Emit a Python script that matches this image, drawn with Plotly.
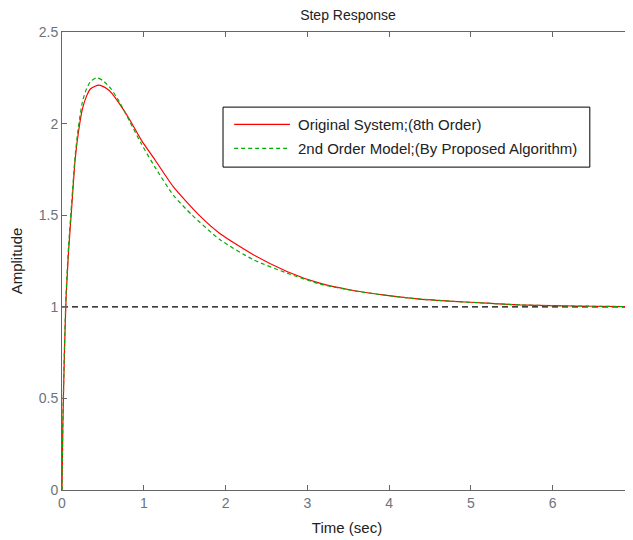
import plotly.graph_objects as go

# Original 8th-order system step response
t_orig = [0, 0.01, 0.03, 0.05, 0.08, 0.12, 0.16, 0.2, 0.25, 0.3, 0.35, 0.45, 0.55, 0.61,
          0.7, 0.83, 0.97, 1.14, 1.36, 1.67, 1.93, 2.34, 2.75, 3.15, 3.56, 3.97, 4.38,
          4.78, 5.19, 5.6, 6.0, 6.5, 6.97]
y_orig = [0, 0.35, 0.75, 1.05, 1.3, 1.55, 1.8, 1.95, 2.08, 2.15, 2.19, 2.21, 2.19, 2.165,
          2.11, 2.02, 1.91, 1.80, 1.656, 1.503, 1.40, 1.284, 1.193, 1.129, 1.089, 1.062, 1.042,
          1.03, 1.02, 1.01, 1.006, 1.003, 1.001]

# 2nd-order reduced model step response
t_model = [0, 0.01, 0.03, 0.05, 0.08, 0.12, 0.16, 0.2, 0.25, 0.3, 0.35, 0.42, 0.5, 0.6,
           0.7, 0.83, 0.97, 1.14, 1.36, 1.585, 1.93, 2.34, 2.75, 3.15, 3.56, 3.97, 4.38,
           4.78, 5.19, 5.6, 6.0, 6.5, 6.97]
y_model = [0, 0.36, 0.78, 1.07, 1.33, 1.58, 1.82, 1.98, 2.12, 2.19, 2.23, 2.25, 2.235, 2.19,
           2.12, 2.01, 1.89, 1.76, 1.61, 1.503, 1.367, 1.257, 1.184, 1.125, 1.088, 1.062, 1.042,
           1.03, 1.02, 1.01, 1.006, 1.003, 1.001]

t_ref = [0, 6.97]
y_ref = [1, 1]

x_ticks = [0, 1, 2, 3, 4, 5, 6]
y_ticks = [0, 0.5, 1, 1.5, 2, 2.5]
y_tick_text = ["0", "0.5", "1", "1.5", "2", "2.5"]

series_names = ["Original System;(8th Order)", "2nd Order Model;(By Proposed Algorithm)"]
series_colors = ["#ff0000", "#00b000"]

FONT = "Liberation Sans, Arial, sans-serif"

fig = go.Figure()
fig.add_trace(go.Scatter(x=t_ref, y=y_ref, mode="lines", showlegend=False,
                         line=dict(color="black", width=1.2, dash="6px,4px")))
fig.add_trace(go.Scatter(x=t_orig, y=y_orig, mode="lines", name=series_names[0], showlegend=False,
                         line=dict(color=series_colors[0], width=1.2, shape="spline", smoothing=0.6)))
fig.add_trace(go.Scatter(x=t_model, y=y_model, mode="lines", name=series_names[1], showlegend=False,
                         line=dict(color=series_colors[1], width=1.2, dash="4px,3px",
                                   shape="spline", smoothing=0.6)))

axis_common = dict(showline=True, linecolor="#666666", linewidth=1, mirror="ticks",
                   ticks="inside", ticklen=5, tickcolor="#666666", showgrid=False,
                   zeroline=False, automargin=False,
                   tickfont=dict(family=FONT, size=14, color="#6c7380"))

fig.update_xaxes(range=[0, 6.97], tickvals=x_ticks, ticktext=[str(v) for v in x_ticks],
                 title=dict(text="Time (sec)", font=dict(family=FONT, size=15, color="#222"),
                            standoff=12),
                 **axis_common)
fig.update_yaxes(range=[0, 2.5], tickvals=y_ticks, ticktext=y_tick_text,
                 title=dict(text="Amplitude", font=dict(family=FONT, size=15, color="#222"),
                            standoff=14),
                 **axis_common)

# Manual legend box (matches the MATLAB legend layout)
shapes = [
    dict(type="rect", xref="paper", yref="paper", x0=0.2825, x1=0.926, y0=0.705, y1=0.836,
         line=dict(color="black", width=1), fillcolor="white", layer="above"),
    dict(type="line", xref="paper", yref="paper", x0=0.302, x1=0.4, y0=0.7984, y1=0.7984,
         line=dict(color=series_colors[0], width=1.2), layer="above"),
    dict(type="line", xref="paper", yref="paper", x0=0.302, x1=0.4, y0=0.7461, y1=0.7461,
         line=dict(color=series_colors[1], width=1.2, dash="4px,3px"), layer="above"),
]
annotations = [
    dict(xref="paper", yref="paper", x=0.4105, y=0.7984, xanchor="left", yanchor="middle",
         text=series_names[0], showarrow=False, font=dict(family=FONT, size=15, color="#222")),
    dict(xref="paper", yref="paper", x=0.4105, y=0.7461, xanchor="left", yanchor="middle",
         text=series_names[1], showarrow=False, font=dict(family=FONT, size=15, color="#222")),
]

fig.update_layout(
    width=625, height=532,
    margin=dict(l=54, r=1, t=24, b=50),
    paper_bgcolor="white", plot_bgcolor="white",
    showlegend=False,
    shapes=shapes, annotations=annotations,
    title=dict(text="Step Response", x=0.544, xanchor="center", y=0.987, yanchor="middle",
               font=dict(family=FONT, size=14, color="#222")),
    font=dict(family=FONT),
)

fig.write_html("out.html")
